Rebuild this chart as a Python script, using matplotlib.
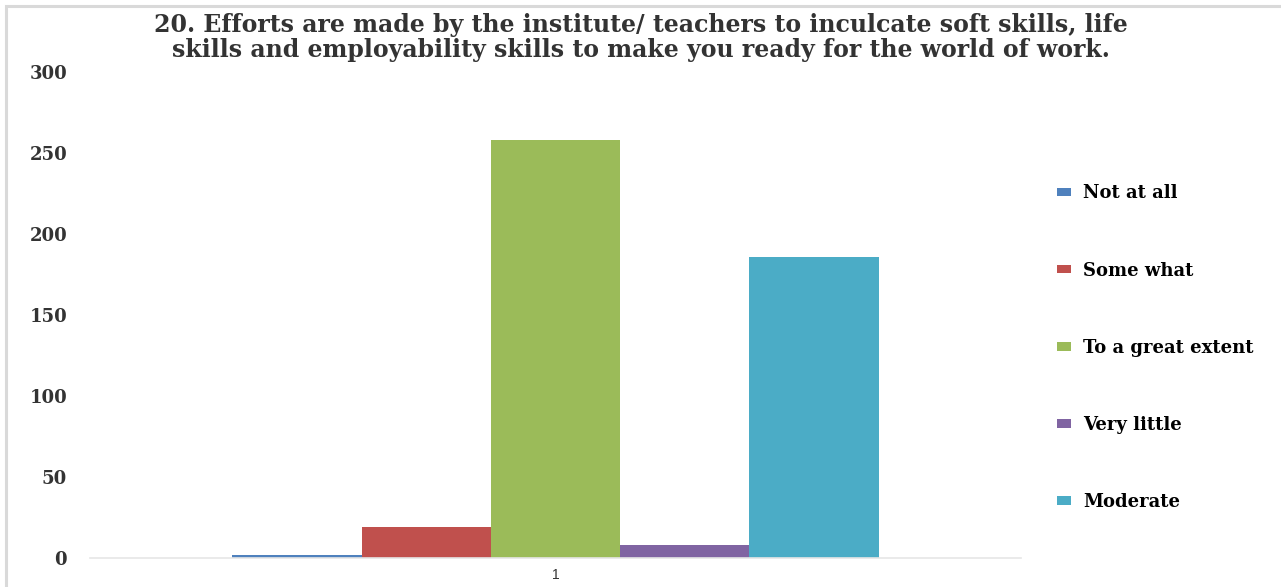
import matplotlib
matplotlib.use("Agg")
import matplotlib.pyplot as plt
from matplotlib.patches import Rectangle

categories = ["Not at all", "Some what", "To a great extent", "Very little", "Moderate"]
values = [2, 19, 258, 8, 186]
colors = ["#4F81BD", "#C0504D", "#9BBB59", "#8064A2", "#4BACC6"]
xtick_labels = ["1"]
yticks = [0, 50, 100, 150, 200, 250, 300]
title = ("20. Efforts are made by the institute/ teachers to inculcate soft skills, life\n"
         "skills and employability skills to make you ready for the world of work.")

plt.rcParams['font.family'] = ['DejaVu Serif']

fig = plt.figure(figsize=(12.81, 5.87), dpi=100)
# outer border
fig.patches.append(Rectangle((0.005, -0.05), 1.2, 1.04, transform=fig.transFigure,
                             fill=False, edgecolor="#d9d9d9", linewidth=2.2))

ax = fig.add_axes([0.0703, 0.0494, 0.7267, 0.828])
n = len(values)
offsets = [i - (n - 1) / 2 for i in range(n)]
for off, v, c, lab in zip(offsets, values, colors, categories):
    ax.bar(off, v, width=1.0, color=c, label=lab)

ax.set_xlim(-3.6, 3.6)
ax.set_ylim(0, 300)
ax.set_yticks(yticks)
ax.set_yticklabels([str(t) for t in yticks], fontsize=13, fontweight='bold', color="#333333")
ax.set_xticks([0])
ax.set_xticklabels(xtick_labels, fontsize=10, color="#333333", family='Liberation Sans')
ax.tick_params(axis='y', length=0, pad=16.5)
ax.tick_params(axis='x', length=0, pad=7)
for s in ["top", "right", "left"]:
    ax.spines[s].set_visible(False)
ax.spines["bottom"].set_color("#e6e6e6")
ax.spines["bottom"].set_linewidth(1.2)

fig.text(0.5, 0.978, title, ha='center', va='top', fontsize=17, fontweight='bold',
         color="#333333", linespacing=1.05)

handles, labels = ax.get_legend_handles_labels()
fig.legend(handles, labels, loc='center left', bbox_to_anchor=(0.8125, 0.4075),
           frameon=False, handlelength=0.75, handleheight=0.35,
           handletextpad=0.7, labelspacing=3.28, prop={'weight': 'bold', 'size': 13})

fig.savefig("out.png", dpi=100)
